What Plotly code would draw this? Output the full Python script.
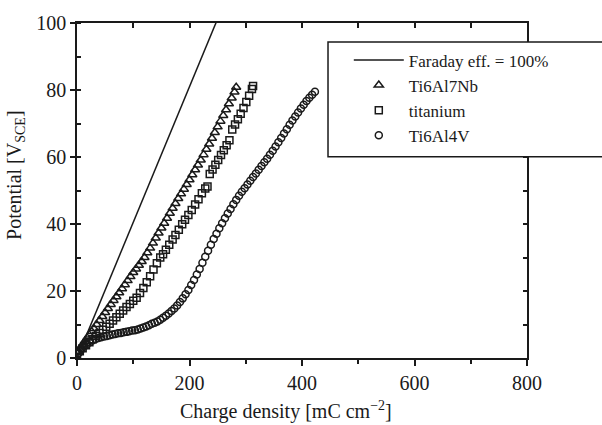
import plotly.graph_objects as go

# Faraday efficiency 100 % reference line
far_q = [0, 260]
far_v = [0, 105.3]

# Ti6Al7Nb (triangles)
nb_q = [2, 6, 10, 14, 18, 22, 26, 30, 35, 40, 45, 50, 55, 60, 65, 70, 75, 80, 85, 90,
        95, 100, 105, 110, 115, 120, 125, 130, 135, 140, 145, 150, 155, 160, 165, 170,
        175, 180, 185, 190, 195, 200, 205, 210, 215, 220, 225, 230, 235, 240, 245, 250,
        255, 260, 265, 270, 275, 280, 283]
nb_v = [2.0, 3.0, 4.0, 5.0, 6.0, 6.9, 7.9, 8.8, 10.0, 11.2, 12.4, 13.6, 14.8, 16.0, 17.2,
        18.3, 19.5, 20.7, 21.9, 23.1, 24.3, 25.5, 26.6, 27.7, 28.8, 30.0, 31.4, 32.8,
        34.3, 35.8, 37.3, 38.8, 40.2, 41.7, 43.2, 44.7, 46.1, 47.6, 49.0, 50.4, 51.8,
        53.2, 54.7, 56.2, 57.6, 59.1, 60.7, 62.3, 63.9, 65.6, 67.3, 69.0, 70.7, 72.4,
        74.1, 75.9, 77.6, 79.4, 80.8]

# titanium (squares)
ti_q = [0, 5, 10, 16, 22, 28, 34, 40, 46, 52, 58, 64, 70, 76, 82, 88, 94, 100, 106, 112,
        118, 124, 130, 136, 142, 148, 153, 158, 164, 170, 175, 181, 187, 192, 198, 204,
        210, 216, 222, 228, 232, 236, 241, 246, 251, 256, 261, 266, 271, 276, 281, 286,
        291, 296, 301, 306, 311, 313]
ti_v = [1.2, 2.0, 2.9, 3.8, 4.7, 5.6, 6.6, 7.5, 8.4, 9.3, 10.2, 11.2, 12.2, 13.2, 14.2,
        15.2, 16.1, 17.1, 18.0, 19.4, 20.9, 22.6, 24.4, 26.4, 28.3, 30.0, 31.0, 32.3,
        33.8, 35.4, 36.7, 38.3, 39.9, 41.3, 42.7, 44.2, 45.8, 47.4, 49.2, 50.6, 51.2,
        54.9, 56.3, 57.7, 59.1, 60.6, 62.0, 63.5, 65.0, 68.2, 69.7, 71.3, 72.9, 74.6,
        76.4, 78.3, 80.3, 81.2]

# Ti6Al4V (circles)
v4_q = [3, 8, 13, 18, 23, 28, 33, 38, 43, 48, 53, 58, 63, 68, 73, 78, 83, 88, 93, 98,
        103, 108, 113, 118, 123, 128, 133, 138, 143, 148, 153, 158, 163, 168, 173, 178,
        183, 188, 193, 198, 203, 208, 213, 218, 223, 228, 233, 238, 243, 248, 253, 258,
        263, 268, 273, 278, 283, 288, 293, 298, 303, 308, 313, 318, 323, 328, 333, 338,
        343, 348, 353, 358, 363, 368, 373, 378, 383, 388, 393, 398, 403, 408, 413, 418,
        423]
v4_v = [1.5, 2.6, 3.5, 4.2, 4.8, 5.3, 5.7, 6.0, 6.2, 6.4, 6.6, 6.8, 7.0, 7.2, 7.4, 7.5,
        7.7, 7.8, 8.0, 8.2, 8.3, 8.5, 8.8, 9.1, 9.4, 9.8, 10.2, 10.5, 10.9, 11.4, 12.0,
        12.6, 13.3, 14.0, 14.8, 15.7, 16.7, 17.8, 19.0, 20.3, 21.8, 23.3, 24.9, 26.6,
        28.4, 30.2, 32.0, 33.8, 35.5, 37.1, 38.7, 40.2, 41.7, 43.1, 44.5, 45.9, 47.2,
        48.4, 49.6, 50.7, 51.8, 52.9, 54.0, 55.1, 56.2, 57.3, 58.4, 59.5, 60.7, 61.9,
        63.1, 64.4, 65.7, 67.0, 68.3, 69.6, 70.9, 72.1, 73.3, 74.5, 75.6, 76.7, 77.7,
        78.6, 79.5]

x_ticks = [0, 200, 400, 600, 800]
y_ticks = [0, 20, 40, 60, 80, 100]

FONT = "Liberation Serif"
INK = "#1a1a1a"

fig = go.Figure()
fig.add_trace(go.Scatter(x=far_q, y=far_v, mode="lines", name="Faraday eff. = 100%",
                         line=dict(color=INK, width=1.5)))
fig.add_trace(go.Scatter(x=nb_q, y=nb_v, mode="markers", name="Ti6Al7Nb",
                         marker=dict(symbol="triangle-up-open", size=8, color=INK,
                                     line=dict(width=1.5))))
fig.add_trace(go.Scatter(x=ti_q, y=ti_v, mode="markers", name="titanium",
                         marker=dict(symbol="square-open", size=7, color=INK,
                                     line=dict(width=1.5))))
fig.add_trace(go.Scatter(x=v4_q, y=v4_v, mode="markers", name="Ti6Al4V",
                         marker=dict(symbol="circle-open", size=7, color=INK,
                                     line=dict(width=1.5))))

# legend frame (runs off the right edge of the figure, as in the original)
fig.add_shape(type="rect", xref="paper", yref="paper",
              x0=0.5578, x1=1.18, y0=0.601, y1=0.943,
              line=dict(color=INK, width=1.5), fillcolor="white", layer="above")

fig.add_annotation(text="Charge density [mC cm<sup>\u22122</sup>]",
                   xref="paper", yref="paper", x=0.464, y=-0.156,
                   xanchor="center", yanchor="middle", showarrow=False,
                   font=dict(size=20))
fig.add_annotation(text="Potential [V<sub>SCE</sub>]", textangle=-90,
                   xref="paper", yref="paper", x=-0.138, y=0.546,
                   xanchor="center", yanchor="middle", showarrow=False,
                   font=dict(size=20))

fig.update_layout(
    width=602, height=425,
    margin=dict(l=77, r=75, t=18, b=67),
    paper_bgcolor="white", plot_bgcolor="white",
    font=dict(family=FONT, size=20, color=INK),
    showlegend=True,
    legend=dict(x=0.604, y=0.942, xanchor="left", yanchor="top",
                bgcolor="rgba(0,0,0,0)", borderwidth=0,
                font=dict(family=FONT, size=17, color=INK),
                itemwidth=50, tracegroupgap=0),
    xaxis=dict(range=[0, 800], tickvals=x_ticks, ticks="outside", ticklen=6,
               tickwidth=1.5, tickcolor=INK, showline=True, linewidth=1.5,
               linecolor=INK, mirror=True, showgrid=False, zeroline=False,
               minor=dict(dtick=100, ticks="outside", ticklen=4, tickwidth=1.5,
                          tickcolor=INK, showgrid=False)),
    yaxis=dict(range=[0, 100], tickvals=y_ticks, ticks="outside", ticklen=5,
               tickwidth=1.5, tickcolor=INK, showline=True, linewidth=1.5,
               linecolor=INK, mirror=True, showgrid=False, zeroline=False,
               minor=dict(dtick=10, ticks="inside", ticklen=4, tickwidth=1.5,
                          tickcolor=INK, showgrid=False)),
    xaxis2=dict(range=[0, 800], overlaying="x", side="top", dtick=100,
                ticks="inside", ticklen=5, tickwidth=1.5, tickcolor=INK,
                showticklabels=False, showgrid=False, zeroline=False),
    yaxis2=dict(range=[0, 100], overlaying="y", side="right", dtick=10,
                ticks="inside", ticklen=4, tickwidth=1.5, tickcolor=INK,
                showticklabels=False, showgrid=False, zeroline=False),
)
# invisible helper so that the mirrored tick axes are drawn
fig.add_trace(go.Scatter(x=[None], y=[None], xaxis="x2", yaxis="y2",
                         showlegend=False, hoverinfo="skip"))

fig.write_html("out.html")
